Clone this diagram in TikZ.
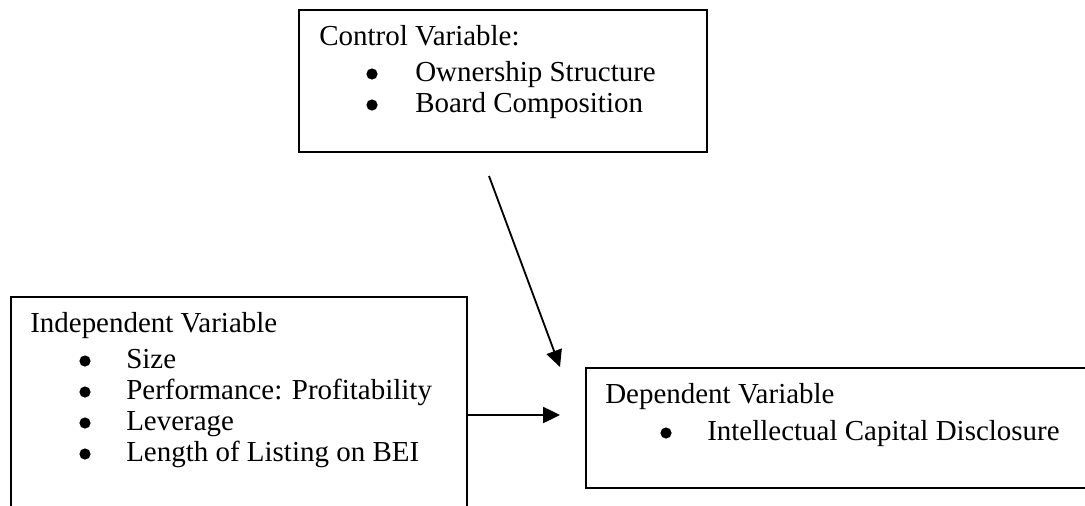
\documentclass[tikz,border=0pt]{standalone}
\usepackage{fontspec}
\setmainfont{Liberation Serif}
\usetikzlibrary{arrows.meta,positioning}
\tikzset{varbox/.style={draw, line width=1.4pt, inner sep=0pt, anchor=north west}}
\tikzset{label text/.style={anchor=base west, inner sep=0pt, font=\fontsize{20.6}{24}\selectfont}}
\tikzset{dot/.style={circle, fill=black, inner sep=0pt, minimum size=0.28cm}}
\tikzset{link/.style={line width=1.3pt, -{Triangle[length=0.42cm, width=0.4cm]}}}

\begin{document}
\begin{tikzpicture}[x=0.025cm, y=-0.025cm]
\useasboundingbox (0,0) rectangle (1085,506);

%the three boxes
\node[varbox, minimum width=10.2cm, minimum height=3.55cm] (ctrl) at (298,9) {};
\node[varbox, minimum width=11.4cm, minimum height=5.85cm] (indep) at (10,296) {};
\node[varbox, minimum width=12.875cm, minimum height=3cm] (dep) at (585,367) {};

%control variable
\node[label text] (ctrlhead) at (319,46) {Control Variable:};
\node[dot] (c1) at (372,74) {};
\node[label text] (c1t) at (415,81) {Ownership Structure};
\node[dot] (c2) at (372,105) {};
\node[label text] (c2t) at (415,112) {Board Composition};

%independent variable
\node[label text] (indephead) at (30,332) {Independent Variable};
\foreach \y/\txt [count=\i] in {368/Size, 399/Performance: Profitability, 430/Leverage, 461/Length of Listing on BEI}{
  \node[dot] (i\i) at (85,{\y-7}) {};
  \node[label text] (i\i t) at (126,\y) {\txt};
}

%dependent variable
\node[label text] (dephead) at (605,403) {Dependent Variable};
\node[dot] (d1) at (666,433) {};
\node[label text] (d1t) at (707,440) {Intellectual Capital Disclosure};

%arrows
\coordinate (tailB) at (489,176);
\coordinate (tipB) at (560,367);
\coordinate (tipA) at (560,415);
\draw[link] (tailB) -- (tipB);
\draw[link] (indep.east |- tipA) -- (tipA);
\end{tikzpicture}
\end{document}
